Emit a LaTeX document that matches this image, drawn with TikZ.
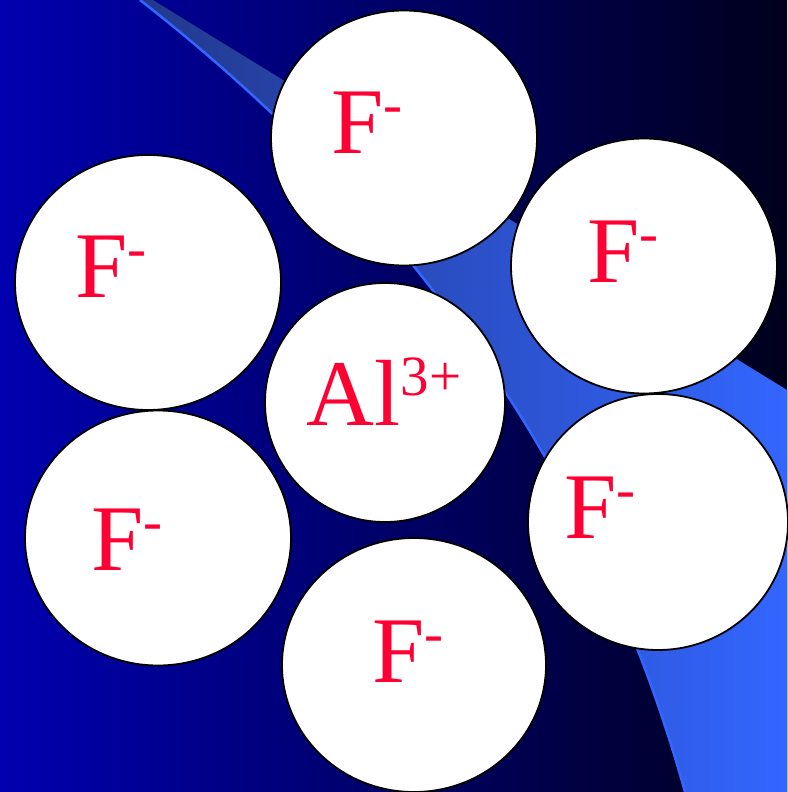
\documentclass[tikz,border=0pt]{standalone}
\usepackage{fontspec}
\setmainfont{Liberation Serif}
\usetikzlibrary{shapes.geometric}

\definecolor{bgleft}{RGB}{0,0,176}
\definecolor{bgright}{RGB}{0,0,28}
\definecolor{bandleft}{RGB}{34,56,140}
\definecolor{bandmid}{RGB}{46,90,212}
\definecolor{bandright}{RGB}{51,102,255}
\definecolor{ionred}{RGB}{255,0,51}
\newcommand{\ionsup}[2]{#1\raisebox{30pt}{\fontsize{57}{57}\selectfont #2}}

\begin{document}
\begin{tikzpicture}[
    x=1pt, y=-1pt,
    ion/.style={ellipse, draw=black, fill=white, line width=1.8pt, inner sep=0pt,
      minimum width=266pt, minimum height=255pt},
    ionlabel/.style={anchor=base west, inner sep=0pt, text=ionred,
      font=\fontsize{94}{94}\selectfont}
  ]
  \useasboundingbox (0,0) rectangle (787,792);

  % ---- Background ----
  \fill[left color=bgleft, right color=bgright] (0,0) rectangle (787,792);
  % swoosh
  \fill[left color=bandleft, middle color=bandmid, right color=bandright]
    (140,0) .. controls (416.6,215.7) and (598.3,479.7) .. (685,792)
    -- (787,792) -- (787,390) -- (153,0) -- cycle;
  \draw[bandright, line width=2.5pt]
    (140,0) .. controls (416.6,215.7) and (598.3,479.7) .. (685,792);

  % ---- Ions ----
  \node[ion] (ftop)      at (404,138)   {};
  \node[ion] (fupleft)   at (148,282.5) {};
  \node[ion] (fupright)  at (644,266)   {};
  \node[ion, minimum width=240pt, minimum height=239pt] (al) at (385,402.5) {};
  \node[ion] (flowleft)  at (158,538)   {};
  \node[ion, minimum width=260pt, minimum height=256pt] (flowright) at (658,522) {};
  \node[ion, minimum width=264pt, minimum height=254pt] (fbottom)   at (414,665) {};

  % Labels
  \node[ionlabel] (ftoptext)      at (331,153)   {\ionsup{F}{-}};
  \node[ionlabel] (fuplefttext)   at (75,297)    {\ionsup{F}{-}};
  \node[ionlabel] (fuprighttext)  at (587,282)   {\ionsup{F}{-}};
  \node[ionlabel] (altext)        at (306.5,425) {\ionsup{Al}{3+}};
  \node[ionlabel] (flowlefttext)  at (91,570)    {\ionsup{F}{-}};
  \node[ionlabel] (flowrighttext) at (564,538)   {\ionsup{F}{-}};
  \node[ionlabel] (fbottomtext)   at (372,682)   {\ionsup{F}{-}};
\end{tikzpicture}
\end{document}
